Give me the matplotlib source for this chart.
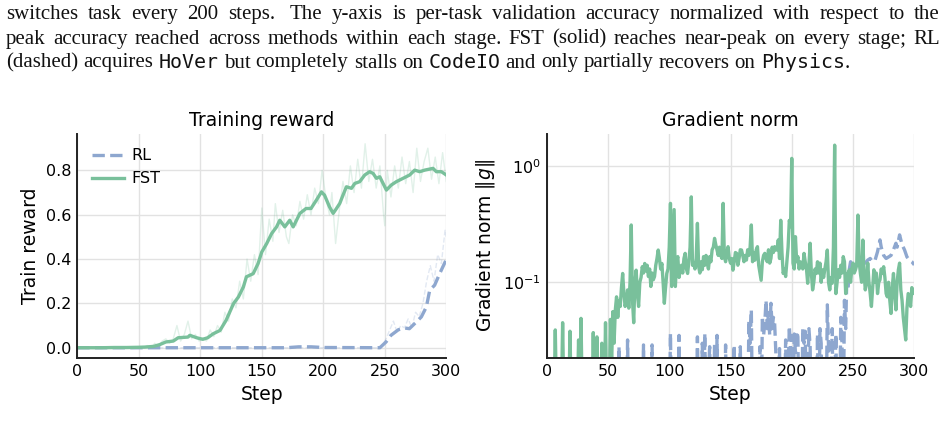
import re
import numpy as np
import matplotlib
matplotlib.use("Agg")
import matplotlib.pyplot as plt
from matplotlib.ticker import FixedLocator, NullLocator

# ---- data ------------------------------------------------------------------
# training reward, FST, smoothed (step, value)
fst_smooth_steps = [0, 10, 20, 30, 40, 50, 55, 62, 67, 72, 78, 82, 90, 91.5, 97, 102, 106,
                    110.5, 116, 121, 127, 131, 135, 137.5, 143, 147, 150, 154, 158, 162,
                    164.6, 168.7, 172.7, 175.5, 181, 186, 190, 194.4, 198.5, 201, 205, 208,
                    210.7, 213.4, 216, 218.8, 222.9, 225.6, 229.6, 233.7, 237.7, 240.5,
                    243.2, 245.9, 248.6, 251.3, 255.3, 259.4, 264.8, 270.2, 274.3, 278.4,
                    282.4, 289.2, 291.9, 296, 300]
fst_smooth_vals = [0.0, 0.0, 0.0, 0.001, 0.001, 0.002, 0.003, 0.006, 0.014, 0.026, 0.03,
                   0.045, 0.048, 0.056, 0.045, 0.038, 0.045, 0.063, 0.078, 0.124, 0.199,
                   0.229, 0.274, 0.32, 0.334, 0.38, 0.432, 0.47, 0.515, 0.545, 0.575, 0.545,
                   0.575, 0.545, 0.606, 0.628, 0.628, 0.666, 0.703, 0.688, 0.636, 0.606,
                   0.628, 0.651, 0.688, 0.726, 0.719, 0.741, 0.749, 0.779, 0.794, 0.786,
                   0.764, 0.771, 0.741, 0.711, 0.734, 0.749, 0.764, 0.779, 0.801, 0.794,
                   0.801, 0.809, 0.794, 0.794, 0.779]

# training reward, FST, raw (faint)
fst_raw_steps = [0, 6, 12, 18, 24, 30, 36, 42, 48, 51, 54, 57, 60, 63, 66, 69, 72, 75, 78,
                 81, 84, 87, 90, 93, 96, 99, 102, 105, 108, 111, 114, 117, 120, 123, 126,
                 129, 132, 135, 138, 141, 144, 147, 150, 153, 156, 159, 161, 164, 167, 170,
                 172, 175, 178, 181, 184, 187, 190, 193, 196, 199, 202, 205, 207, 210, 213,
                 216, 219, 222, 225, 228, 231, 234, 237, 240, 243, 246, 249, 250, 252, 255,
                 258, 261, 264, 267, 270, 273, 276, 279, 282, 285, 288, 291, 294, 297, 300]
fst_raw_vals = [0.0, 0.0, 0.003, 0.0, 0.002, 0.0, 0.003, 0.0, 0.0, 0.005, 0.0, 0.01, 0.0,
                0.02, 0.005, 0.03, 0.04, 0.02, 0.04, 0.1, 0.03, 0.06, 0.12, 0.04, 0.06,
                0.03, 0.045, 0.03, 0.08, 0.05, 0.1, 0.07, 0.16, 0.12, 0.22, 0.18, 0.3, 0.22,
                0.4, 0.3, 0.42, 0.33, 0.63, 0.42, 0.58, 0.48, 0.65, 0.52, 0.62, 0.5, 0.47,
                0.6, 0.55, 0.66, 0.58, 0.69, 0.6, 0.72, 0.65, 0.8, 0.68, 0.6, 0.7, 0.47,
                0.62, 0.75, 0.65, 0.82, 0.7, 0.85, 0.72, 0.92, 0.75, 0.85, 0.72, 0.82, 0.6,
                0.55, 0.8, 0.68, 0.82, 0.72, 0.86, 0.74, 0.84, 0.7, 0.9, 0.75, 0.84, 0.9,
                0.76, 0.86, 0.74, 0.88, 0.75]

# training reward, RL
rl_smooth_steps = [0, 170, 180, 190, 200, 246, 251, 255, 261, 266, 270, 275.6, 279.7,
                   283.8, 286.5, 290.5, 294.6, 300]
rl_smooth_vals = [0.0, 0.0, 0.004, 0.004, 0.001, 0.0, 0.026, 0.056, 0.081, 0.089, 0.086,
                  0.116, 0.139, 0.184, 0.259, 0.282, 0.334, 0.398]
rl_raw_steps = [0, 245, 248, 251, 254, 257, 260, 263, 266, 269, 272, 275, 278, 281, 284,
                287, 290, 293, 296, 299, 300]
rl_raw_vals = [0.0, 0.0, 0.01, 0.04, 0.08, 0.12, 0.07, 0.1, 0.09, 0.13, 0.09, 0.16, 0.14,
               0.2, 0.3, 0.37, 0.3, 0.42, 0.38, 0.53, 0.5]

# gradient norm, FST, one value per step 0..300
grad_fst = [
    0.01, 0.01, 0.01, 0.01, 0.01, 0.01, 0.01, 0.039, 0.01, 0.01,
    0.01, 0.01, 0.01, 0.045, 0.01, 0.01, 0.01, 0.01, 0.01, 0.038,
    0.01, 0.01, 0.01, 0.01, 0.01, 0.01, 0.032, 0.01, 0.049, 0.01,
    0.01, 0.01, 0.01, 0.01, 0.01, 0.01, 0.01, 0.01, 0.037, 0.01,
    0.01, 0.034, 0.01, 0.01, 0.01, 0.03, 0.01, 0.01, 0.045, 0.01,
    0.01, 0.01, 0.048, 0.02, 0.056, 0.03, 0.058, 0.075, 0.05, 0.07,
    0.062, 0.09, 0.119, 0.08, 0.062, 0.07, 0.086, 0.06, 0.1, 0.31,
    0.07, 0.045, 0.1, 0.127, 0.08, 0.062, 0.1, 0.11, 0.136, 0.12,
    0.145, 0.125, 0.14, 0.112, 0.13, 0.092, 0.12, 0.105, 0.112, 0.14,
    0.16, 0.189, 0.16, 0.13, 0.145, 0.1, 0.066, 0.09, 0.119, 0.13,
    0.2, 0.475, 0.092, 0.2, 0.42, 0.092, 0.15, 0.166, 0.11, 0.128,
    0.14, 0.12, 0.16, 0.177, 0.13, 0.119, 0.15, 0.2, 0.54, 0.14,
    0.146, 0.13, 0.16, 0.32, 0.136, 0.12, 0.15, 0.128, 0.166, 0.14,
    0.17, 0.146, 0.13, 0.166, 0.15, 0.19, 0.2, 0.238, 0.21, 0.189,
    0.17, 0.2, 0.17, 0.16, 0.475, 0.166, 0.15, 0.18, 0.202, 0.16,
    0.146, 0.16, 0.127, 0.15, 0.18, 0.177, 0.14, 0.16, 0.19, 0.189,
    0.17, 0.15, 0.17, 0.155, 0.19, 0.17, 0.2, 0.31, 0.15, 0.18,
    0.155, 0.19, 0.202, 0.14, 0.12, 0.104, 0.15, 0.17, 0.177, 0.16,
    0.15, 0.19, 0.146, 0.16, 0.2, 0.18, 0.202, 0.189, 0.19, 0.231,
    0.16, 0.34, 0.18, 0.119, 0.13, 0.112, 0.15, 0.2, 0.34, 0.3,
    1.155, 0.146, 0.13, 0.246, 0.15, 0.166, 0.13, 0.15, 0.146, 0.13,
    0.177, 0.15, 0.13, 0.098, 0.14, 0.216, 0.12, 0.086, 0.1, 0.13,
    0.119, 0.15, 0.12, 0.146, 0.1, 0.128, 0.11, 0.13, 0.15, 0.189,
    0.1, 0.086, 0.11, 0.098, 0.2, 1.5, 0.08, 0.1, 0.128, 0.11,
    0.14, 0.12, 0.166, 0.15, 0.08, 0.1, 0.12, 0.128, 0.1, 0.13,
    0.146, 0.12, 0.128, 0.14, 0.377, 0.15, 0.119, 0.1, 0.23, 0.12,
    0.086, 0.1, 0.146, 0.1, 0.08, 0.062, 0.09, 0.128, 0.1, 0.12,
    0.08, 0.1, 0.105, 0.13, 0.12, 0.136, 0.11, 0.08, 0.075, 0.1,
    0.07, 0.054, 0.09, 0.119, 0.08, 0.058, 0.1, 0.128, 0.146, 0.086,
    0.07, 0.05, 0.04, 0.032, 0.06, 0.08, 0.07, 0.062, 0.09, 0.08,
    0.086,
]

# gradient norm, RL (mostly below the visible range until ~245)
grad_rl_steps = [0, 58, 59, 60, 65, 66, 67, 78, 79, 80, 85, 86, 87, 100, 101, 102, 107, 108,
                 109, 122, 123, 124, 126, 127, 128, 129, 130, 133, 134, 136, 137, 138, 139,
                 140, 145, 146, 147, 152, 153, 154, 157, 158, 159, 164, 165, 166, 167, 168,
                 173, 174, 175, 176, 177, 178, 179, 180, 181, 182, 183, 184, 185, 186, 187,
                 188, 190, 191, 194, 195, 196, 198, 199, 200, 201, 202, 203, 204, 205, 206,
                 208, 209, 210, 211, 212, 214, 215, 216, 220, 221, 222, 223, 224, 225, 228,
                 229, 230, 231, 233, 234, 236, 237, 239, 240, 241, 242, 243, 244, 245, 246,
                 247, 248, 249, 250, 252, 254, 256, 258, 260, 262, 264, 266, 268, 270, 272,
                 273, 275, 277, 279, 281, 283, 285, 286, 288, 290, 292, 294, 296, 298, 300]
grad_rl_vals = [0.005, 0.005, 0.028, 0.005, 0.005, 0.032, 0.005, 0.005, 0.029, 0.005, 0.005,
                0.029, 0.005, 0.005, 0.0365, 0.005, 0.005, 0.035, 0.005, 0.005, 0.034,
                0.005, 0.005, 0.03, 0.005, 0.0365, 0.005, 0.028, 0.005, 0.005, 0.03, 0.005,
                0.035, 0.005, 0.005, 0.029, 0.005, 0.005, 0.029, 0.005, 0.005, 0.028, 0.005,
                0.005, 0.047, 0.03, 0.058, 0.005, 0.005, 0.028, 0.005, 0.051, 0.035, 0.045,
                0.07, 0.04, 0.055, 0.035, 0.066, 0.04, 0.05, 0.045, 0.025, 0.005, 0.027,
                0.005, 0.005, 0.032, 0.005, 0.042, 0.025, 0.035, 0.005, 0.036, 0.025, 0.038,
                0.034, 0.005, 0.005, 0.04, 0.03, 0.038, 0.005, 0.04, 0.028, 0.005, 0.005,
                0.036, 0.005, 0.04, 0.03, 0.005, 0.005, 0.064, 0.028, 0.005, 0.04, 0.005,
                0.036, 0.005, 0.005, 0.05, 0.03, 0.005, 0.07, 0.04, 0.119, 0.09, 0.13, 0.15,
                0.14, 0.13, 0.137, 0.15, 0.166, 0.15, 0.146, 0.155, 0.16, 0.15, 0.155, 0.183,
                0.231, 0.2, 0.17, 0.16, 0.165, 0.17, 0.19, 0.216, 0.2, 0.255, 0.21, 0.19,
                0.165, 0.155, 0.15, 0.141]

caption_lines = [
    "switches task every 200 steps.  The y-axis is per-task validation accuracy normalized with respect to the",
    "peak accuracy reached across methods within each stage. FST (solid) reaches near-peak on every stage; RL",
    "(dashed) acquires `HoVer` but completely stalls on `CodeIO` and only partially recovers on `Physics`.",
]

GREEN = "#79c09b"
BLUE = "#8ea7cf"
SERIF = "Liberation Serif"
MONO = "DejaVu Sans Mono"

W, H = 950, 444
fig = plt.figure(figsize=(W / 100, H / 100), dpi=100)
renderer = fig.canvas.get_renderer()


def text_width(s, size, fam):
    t = fig.text(0, 0, s, fontsize=size, family=fam)
    w = t.get_window_extent(renderer).width
    t.remove()
    return w


def split_line(line):
    # words (list of (piece, family)) and the gap weight before each word
    parts = re.split(r"( +)", line)
    words, gaps = [], []
    pending = 0
    for p in parts:
        if p.startswith(" "):
            pending = 1.6 if len(p) > 1 else 1
        elif p:
            words.append([(s, MONO if i % 2 else SERIF)
                          for i, s in enumerate(re.split(r"`([^`]+)`", p)) if s])
            gaps.append(pending)
            pending = 0
    return words, gaps


def space_width(size):
    return text_width("a a", size, SERIF) - text_width("aa", size, SERIF)


x_left, x_right, last_right = 6, 940, 852
base = 10

# serif size: slightly below what fills the first line at natural spacing
w1, g1 = split_line(caption_lines[0])
nat1 = sum(text_width(s, base, f) for w in w1 for s, f in w) + sum(g1[1:]) * space_width(base)
serif_size = 0.93 * base * (x_right - x_left) / nat1
sp = space_width(serif_size)

# mono size: the ragged last line ends where it does in the reference
w3, g3 = split_line(caption_lines[-1])
serif_w = sum(text_width(s, serif_size, f) for w in w3 for s, f in w if f == SERIF) \
    + sum(g3[1:]) * sp
mono_nat = sum(text_width(s, base, f) for w in w3 for s, f in w if f == MONO)
mono_size = min(base * (last_right - x_left - serif_w) / mono_nat, 0.95 * serif_size)
mono_size = max(mono_size, 0.8 * serif_size)
sizes = {SERIF: serif_size, MONO: mono_size}

baselines = [19, 43.5, 67.5]
for k, line in enumerate(caption_lines):
    words, gaps = split_line(line)
    widths = [sum(text_width(s, sizes[f], f) for s, f in w) for w in words]
    if k < len(caption_lines) - 1:
        gap = (x_right - x_left - sum(widths)) / sum(gaps[1:])
    else:
        gap = sp
    x = x_left
    for i, (w, ww) in enumerate(zip(words, widths)):
        if i:
            x += gaps[i] * gap
        xx = x
        for s, fam in w:
            fig.text(xx / W, 1 - baselines[k] / H, s, fontsize=sizes[fam], family=fam,
                     va="baseline", ha="left", color="#111111")
            xx += text_width(s, sizes[fam], fam)
        x += ww

# ---- axes --------------------------------------------------------------------
bottom = (H - 357.7) / H
height = (357.7 - 134) / H
ax1 = fig.add_axes([77.3 / W, bottom, (446.3 - 77.3) / W, height])
ax2 = fig.add_axes([546.7 / W, bottom, (914.3 - 546.7) / W, height])

for ax in (ax1, ax2):
    ax.set_facecolor("white")
    ax.grid(True, color="#e2e2e2", lw=1.0)
    ax.set_axisbelow(True)
    for side in ("top", "right"):
        ax.spines[side].set_visible(False)
    for side in ("left", "bottom"):
        ax.spines[side].set_color("#222222")
        ax.spines[side].set_linewidth(1.4)
    ax.tick_params(length=0, labelsize=11.5, pad=4.5)
    ax.set_xlim(0, 300)
    ax.set_xticks(np.arange(0, 301, 50))
    ax.set_xlabel("Step", fontsize=13.5)

# training reward
ax1.plot(rl_raw_steps, rl_raw_vals, color=BLUE, lw=1.0, ls="--", alpha=0.25)
ax1.plot(fst_raw_steps, fst_raw_vals, color=GREEN, lw=1.0, alpha=0.22)
ax1.plot(rl_smooth_steps, rl_smooth_vals, color=BLUE, lw=2.4, ls="--", label="RL")
ax1.plot(fst_smooth_steps, fst_smooth_vals, color=GREEN, lw=2.4, label="FST")
ax1.set_ylim(-0.045, 0.964)
ax1.set_yticks(np.arange(0, 0.81, 0.2))
ax1.set_ylabel("Train reward", fontsize=13.5)
ax1.set_title("Training reward", fontsize=13.5)
ax1.legend(loc="upper left", frameon=False, fontsize=11.5, handletextpad=0.5)

# gradient norm
ax2.plot(grad_rl_steps, grad_rl_vals, color=BLUE, lw=2.4, ls="--")
ax2.plot(np.arange(len(grad_fst)), grad_fst, color=GREEN, lw=2.4)
ax2.set_yscale("log")
ax2.set_ylim(0.02254, 1.87)
ax2.yaxis.set_major_locator(FixedLocator([0.1, 1.0]))
ax2.yaxis.set_minor_locator(NullLocator())
ax2.set_ylabel(r"Gradient norm $\|g\|$", fontsize=13.5)
ax2.set_title("Gradient norm", fontsize=13.5)

fig.savefig("out.png", dpi=100)
